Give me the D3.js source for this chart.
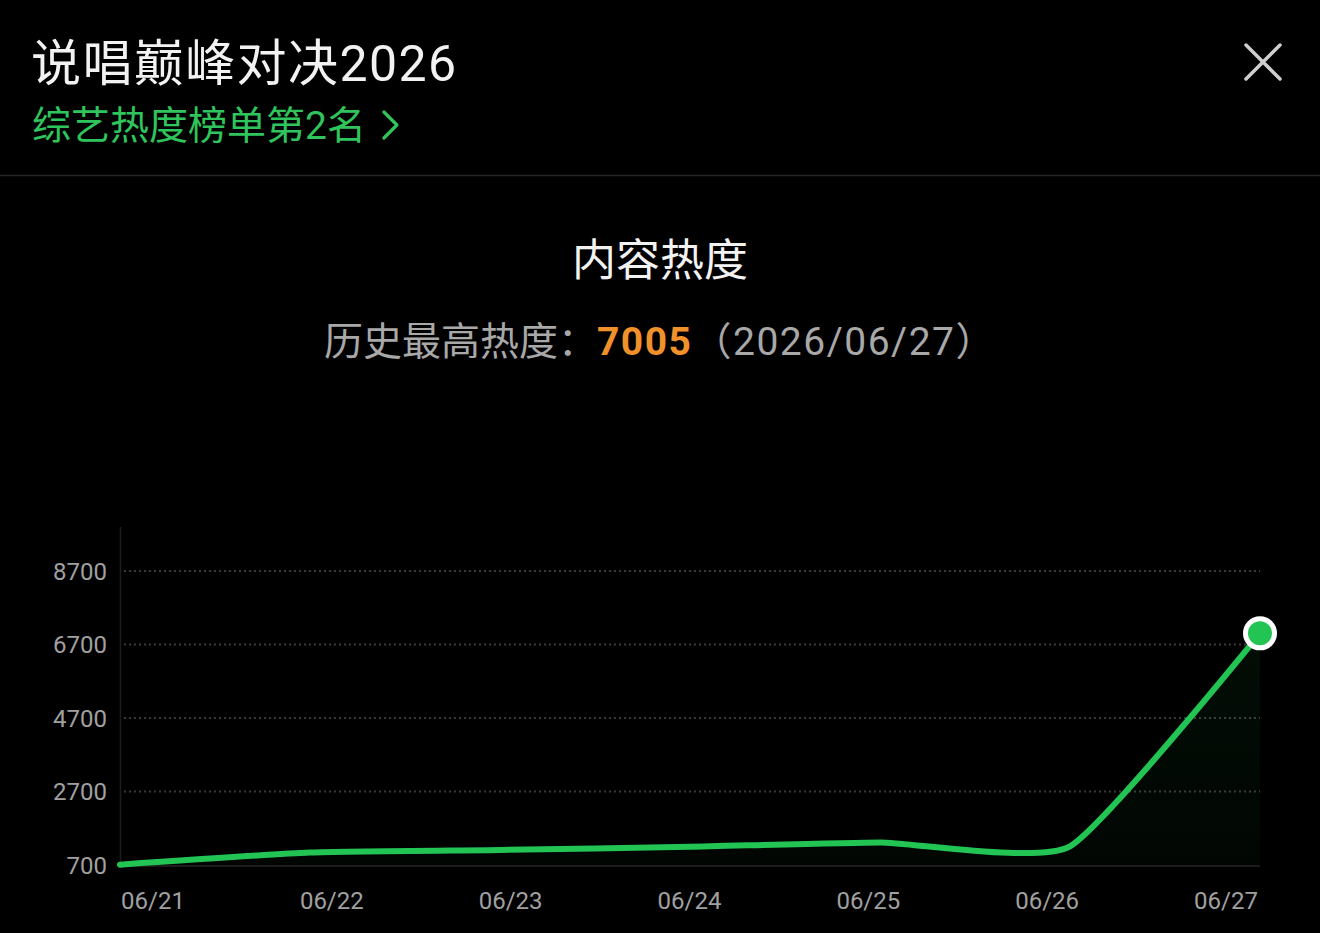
<!DOCTYPE html>
<html>
<head>
<meta charset="utf-8">
<script src="https://cdn.jsdelivr.net/npm/d3@7"></script>
<style>
  html, body { margin: 0; padding: 0; background: #000; }
  svg { display: block; }
</style>
</head>
<body>
<div id="chart"></div>
<script>
// chart data
const dates = ['06/21', '06/22', '06/23', '06/24', '06/25', '06/26', '06/27'];
const heat = [710, 1040, 1110, 1195, 1315, 1210, 7005];
const yTicks = [700, 2700, 4700, 6700, 8700];
const titleText = '说唱巅峰对决2026';
const rankText = '综艺热度榜单第2名';
const chartTitle = '内容热度';
const peakLabel = '历史最高热度：';
const peakValue = '7005';
const peakDate = '（2026/06/27）';

const width = 1320;
const height = 933;
const cjk = "Roboto, 'Noto Sans CJK SC', sans-serif";
const green = '#22c453';

let svg = d3.select('#chart').append('svg')
  .attr('width', width)
  .attr('height', height)
  .style('background', '#000');

// header
svg.append('text')
  .attr('x', 31).attr('y', 81)
  .attr('font-family', cjk).attr('font-size', 50)
  .attr('letter-spacing', 1.4)
  .attr('fill', '#f2f2f2')
  .text(titleText);

let rank = svg.append('text')
  .attr('x', 32).attr('y', 139)
  .attr('font-family', cjk).attr('font-size', 39)
  .attr('fill', '#2fc45c')
  .text(rankText);

// chevron after the rank text
let rankEnd = 32 + rank.node().getComputedTextLength();
svg.append('path')
  .attr('d', 'M' + (rankEnd + 18) + ',112 L' + (rankEnd + 31) + ',125 L' + (rankEnd + 18) + ',138')
  .attr('fill', 'none')
  .attr('stroke', '#2fc45c')
  .attr('stroke-width', 3.2)
  .attr('stroke-linecap', 'round')
  .attr('stroke-linejoin', 'round');

// close button
svg.append('path')
  .attr('d', 'M1246,45 L1280,79 M1280,45 L1246,79')
  .attr('stroke', '#cfcfcf')
  .attr('stroke-width', 3.5)
  .attr('stroke-linecap', 'round');

// divider
svg.append('line')
  .attr('x1', 0).attr('x2', width)
  .attr('y1', 175.5).attr('y2', 175.5)
  .attr('stroke', '#262626')
  .attr('stroke-width', 1.5);

// chart heading
svg.append('text')
  .attr('x', 660).attr('y', 276)
  .attr('text-anchor', 'middle')
  .attr('font-family', cjk).attr('font-size', 44)
  .attr('fill', '#f2f2f2')
  .text(chartTitle);

let peak = svg.append('text')
  .attr('x', 660).attr('y', 355)
  .attr('text-anchor', 'middle')
  .attr('font-family', cjk).attr('font-size', 39)
  .attr('fill', '#a8a8a8');
peak.append('tspan').text(peakLabel);
peak.append('tspan').attr('fill', '#f0912c').attr('font-weight', 'bold')
  .attr('letter-spacing', 1.5).text(peakValue);
peak.append('tspan').attr('letter-spacing', 1.5).text(peakDate);

// scales
let x = d3.scalePoint().domain(dates).range([120, 1260]);
let xLabel = d3.scalePoint().domain(dates).range([153, 1226]);
let y = d3.scaleLinear().domain([700, 9900]).range([865, 527]);

let g = svg.append('g');

// grid lines (dotted)
g.append('g')
  .selectAll('line')
  .data(yTicks.slice(1))
  .enter().append('line')
  .attr('x1', 124).attr('x2', 1260)
  .attr('y1', d => y(d)).attr('y2', d => y(d))
  .attr('stroke', '#3a3a3a')
  .attr('stroke-width', 2)
  .attr('stroke-dasharray', '2 3');

// y axis line and baseline
g.append('line')
  .attr('x1', 120.5).attr('x2', 120.5)
  .attr('y1', y(9900)).attr('y2', y(700))
  .attr('stroke', '#1c1c1c')
  .attr('stroke-width', 1.5);
g.append('line')
  .attr('x1', 120).attr('x2', 1260)
  .attr('y1', y(700) + 1).attr('y2', y(700) + 1)
  .attr('stroke', '#1c1c1c')
  .attr('stroke-width', 2);

// y tick labels
g.append('g')
  .selectAll('text')
  .data(yTicks)
  .enter().append('text')
  .attr('x', 107)
  .attr('y', d => y(d))
  .attr('dy', '0.36em')
  .attr('text-anchor', 'end')
  .attr('font-family', cjk).attr('font-size', 24)
  .attr('fill', '#a0a0a0')
  .text(d => d);

// x tick labels
g.append('g')
  .selectAll('text')
  .data(dates)
  .enter().append('text')
  .attr('x', d => xLabel(d))
  .attr('y', 909)
  .attr('text-anchor', 'middle')
  .attr('font-family', cjk).attr('font-size', 24)
  .attr('fill', '#a0a0a0')
  .text(d => d);

// area gradient
let defs = svg.append('defs');
let grad = defs.append('linearGradient')
  .attr('id', 'areaGrad')
  .attr('x1', 0).attr('y1', 0).attr('x2', 0).attr('y2', 1);
grad.append('stop').attr('offset', '0%').attr('stop-color', green).attr('stop-opacity', 0.07);
grad.append('stop').attr('offset', '100%').attr('stop-color', green).attr('stop-opacity', 0.03);

let points = dates.map((d, i) => ({date: d, value: heat[i]}));
let curve = d3.curveCardinal.tension(0.5);

g.append('path')
  .datum(points)
  .attr('fill', 'url(#areaGrad)')
  .attr('d', d3.area()
    .x(d => x(d.date))
    .y0(y(700))
    .y1(d => y(d.value))
    .curve(curve));

g.append('path')
  .datum(points)
  .attr('fill', 'none')
  .attr('stroke', green)
  .attr('stroke-width', 6)
  .attr('stroke-linecap', 'round')
  .attr('d', d3.line()
    .x(d => x(d.date))
    .y(d => y(d.value))
    .curve(curve));

// highlight the last point
let last = points[points.length - 1];
g.append('circle')
  .attr('cx', x(last.date))
  .attr('cy', y(last.value))
  .attr('r', 14.5)
  .attr('fill', green)
  .attr('stroke', '#fff')
  .attr('stroke-width', 5);
</script>
</body>
</html>
